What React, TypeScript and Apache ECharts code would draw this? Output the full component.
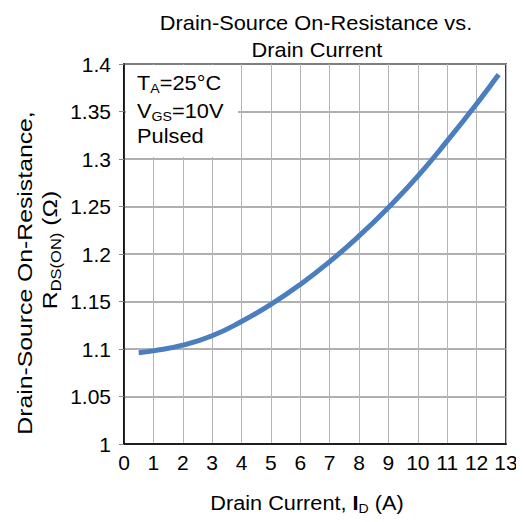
import React, { useEffect, useRef } from "react";
import * as echarts from "echarts";

const currentA = [0.5, 1, 2, 3, 4, 5, 6, 7, 8, 9, 10, 11, 12, 12.75];
const resistanceOhm = [1.096, 1.098, 1.104, 1.114, 1.129, 1.147, 1.168, 1.192, 1.219, 1.249, 1.282, 1.319, 1.358, 1.389];
const titleLines = ["Drain-Source On-Resistance vs.", "Drain Current"];
const noteLines = ["T_A=25°C", "V_GS=10V", "Pulsed"];

const FONT = "Liberation Sans, Arial, sans-serif";

export default function App() {
  const ref = useRef<HTMLDivElement>(null);
  useEffect(() => {
    if (!ref.current) return;
    const chart = echarts.init(ref.current, null, { renderer: "svg" });
    const data = currentA.map((x, i) => [x, resistanceOhm[i]]);
    const rich = {
      n: { fontSize: 20, fontFamily: FONT, fill: "#000", lineHeight: 24 },
      s: { fontSize: 13, fontFamily: FONT, fill: "#000", lineHeight: 24, verticalAlign: "bottom" },
      b: { fontSize: 20, fontFamily: FONT, fill: "#000", lineHeight: 24, fontWeight: "bold" },
    };
    const rich21 = {
      n: { fontSize: 21, fontFamily: FONT, fill: "#000", lineHeight: 25 },
      s: { fontSize: 14, fontFamily: FONT, fill: "#000", lineHeight: 25, verticalAlign: "bottom" },
    };
    chart.setOption({
      animation: false,
      grid: {
        left: 124,
        right: 18,
        top: 64,
        bottom: 78,
        show: true,
        borderColor: "#000",
        borderWidth: 1.5,
        backgroundColor: "#fff",
      },
      xAxis: {
        type: "value",
        min: 0,
        max: 13,
        interval: 1,
        axisLine: { show: true, lineStyle: { color: "#000", width: 1.5 } },
        axisTick: { show: false },
        axisLabel: { color: "#000", fontSize: 21, fontFamily: FONT, margin: 8 },
        splitLine: { show: true, lineStyle: { color: "#b4b4b4", width: 1 } },
      },
      yAxis: {
        type: "value",
        min: 1,
        max: 1.4,
        interval: 0.05,
        axisLine: { show: true, lineStyle: { color: "#000", width: 1.5 } },
        axisTick: { show: true, length: 5, lineStyle: { color: "#888" } },
        axisLabel: { color: "#000", fontSize: 21, fontFamily: FONT, margin: 13 },
        splitLine: { show: true, lineStyle: { color: "#969696", width: 1.5 } },
      },
      series: [
        {
          type: "line",
          data,
          smooth: true,
          showSymbol: false,
          lineStyle: { color: "#4a7ebf", width: 5 },
          z: 3,
        },
      ],
      graphic: [
        {
          type: "rect",
          z: 50,
          shape: { x: 126, y: 65, width: 112, height: 92 },
          style: { fill: "#fff" },
        },
        {
          type: "text",
          z: 60,
          x: 316,
          y: 23,
          scaleX: 1.09,
          style: { text: titleLines[0], fontSize: 20, fontFamily: FONT, fill: "#000", align: "center", verticalAlign: "middle" },
        },
        {
          type: "text",
          z: 60,
          x: 317,
          y: 50,
          scaleX: 1.09,
          style: { text: titleLines[1], fontSize: 20, fontFamily: FONT, fill: "#000", align: "center", verticalAlign: "middle" },
        },
        {
          type: "text",
          z: 60,
          x: 137,
          y: 83,
          scaleX: 1.09,
          style: { text: "{n|T}{s|A}{n|=25°C}", rich, align: "left", verticalAlign: "middle" },
        },
        {
          type: "text",
          z: 60,
          x: 137,
          y: 111,
          scaleX: 1.09,
          style: { text: "{n|V}{s|GS}{n|=10V}", rich, align: "left", verticalAlign: "middle" },
        },
        {
          type: "text",
          z: 60,
          x: 137,
          y: 136,
          scaleX: 1.09,
          style: { text: "{n|" + noteLines[2] + "}", rich, align: "left", verticalAlign: "middle" },
        },
        {
          type: "text",
          z: 60,
          x: 307,
          y: 503,
          scaleX: 1.085,
          style: { text: "{n|Drain Current, }{b|I}{s|D}{n| (A)}", rich, align: "center", verticalAlign: "middle" },
        },
        {
          type: "text",
          z: 60,
          x: 25,
          y: 273,
          rotation: Math.PI / 2,
          scaleX: 1.18,
          style: { text: "Drain-Source On-Resistance,", fontSize: 21, fontFamily: FONT, fill: "#000", align: "center", verticalAlign: "middle" },
        },
        {
          type: "text",
          z: 60,
          x: 50,
          y: 250,
          rotation: Math.PI / 2,
          scaleX: 1.18,
          style: { text: "{n|R}{s|DS(ON)}{n| (Ω)}", rich: rich21, align: "center", verticalAlign: "middle" },
        },
      ],
    });
    return () => chart.dispose();
  }, []);
  return <div ref={ref} style={{ width: 524, height: 522, margin: -8 }} />;
}
